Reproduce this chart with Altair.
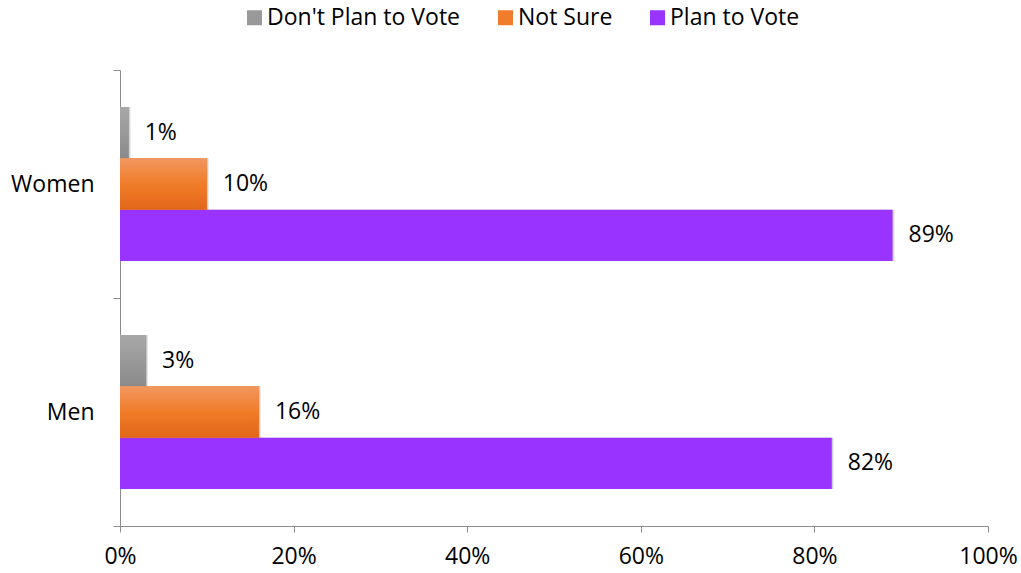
import altair as alt
import pandas as pd

groups = ["Women", "Men"]
series = ["Don't Plan to Vote", "Not Sure", "Plan to Vote"]
women_values = [1, 10, 89]
men_values = [3, 16, 82]
tick_values = [0, 20, 40, 60, 80, 100]
series_colors = ["#999999", "#ef7d2c", "#9933ff"]

rows = []
for g, vals in zip(groups, [women_values, men_values]):
    for s, v in zip(series, vals):
        rows.append({"group": g, "series": s, "value": v, "label": f"{v}%"})
df = pd.DataFrame(rows)

FONT = "Open Sans"
AXIS_GRAY = "#8c8c8c"

y_enc = alt.Y(
    "group:N",
    sort=groups,
    scale=alt.Scale(paddingInner=0, paddingOuter=0),
    axis=alt.Axis(
        title=None, tickBand="extent", tickSize=7, domainColor=AXIS_GRAY,
        tickColor=AXIS_GRAY, labelFont=FONT, labelFontSize=23,
        labelColor="black", labelPadding=19,
    ),
)
yoff_enc = alt.YOffset("series:N", sort=series, scale=alt.Scale(paddingInner=0, paddingOuter=0.722))
x_enc = alt.X(
    "value:Q",
    scale=alt.Scale(domain=[0, 100], nice=False),
    axis=alt.Axis(
        values=tick_values, labelExpr="datum.value + '%'", grid=False, title=None,
        tickSize=6, domainColor=AXIS_GRAY, tickColor=AXIS_GRAY, labelFont=FONT,
        labelFontSize=23, labelColor="black", labelPadding=13, labelFlush=False,
    ),
)

base = alt.Chart(df)

shadow1 = base.mark_bar(color="black", opacity=0.10, yOffset=4, xOffset=2).encode(
    x=x_enc, y=y_enc, yOffset=yoff_enc
)
shadow2 = base.mark_bar(color="black", opacity=0.12, yOffset=2, xOffset=1).encode(
    x=x_enc, y=y_enc, yOffset=yoff_enc
)

bars = base.mark_bar().encode(
    x=x_enc,
    y=y_enc,
    yOffset=yoff_enc,
    color=alt.Color(
        "series:N",
        sort=series,
        scale=alt.Scale(domain=series, range=series_colors),
        legend=alt.Legend(
            title=None, orient="none", direction="horizontal", legendX=123,
            legendY=-64, symbolType="square", symbolSize=225, symbolStrokeWidth=0,
            labelFont=FONT, labelFontSize=23, labelColor="black", labelOffset=1,
            columnPadding=33, labelLimit=0,
        ),
    ),
)

gray_grad = alt.LinearGradient(
    gradient="linear", x1=0, x2=0, y1=0, y2=1,
    stops=[alt.GradientStop(color="#a8a8a8", offset=0), alt.GradientStop(color="#8a8a8a", offset=1)],
)
orange_grad = alt.LinearGradient(
    gradient="linear", x1=0, x2=0, y1=0, y2=1,
    stops=[
        alt.GradientStop(color="#f29761", offset=0),
        alt.GradientStop(color="#f07c28", offset=0.5),
        alt.GradientStop(color="#e2661a", offset=1),
    ],
)

gray_bars = base.transform_filter(alt.datum.series == series[0]).mark_bar(color=gray_grad).encode(
    x=x_enc, y=y_enc, yOffset=yoff_enc
)
orange_bars = base.transform_filter(alt.datum.series == series[1]).mark_bar(color=orange_grad).encode(
    x=x_enc, y=y_enc, yOffset=yoff_enc
)

labels = base.mark_text(
    align="left", baseline="middle", dx=16, fontSize=23, font=FONT, color="black"
).encode(x=x_enc, y=y_enc, yOffset=yoff_enc, text="label:N")

chart = (
    alt.layer(shadow1, shadow2, bars, gray_bars, orange_bars, labels)
    .properties(
        width=868, height=456,
        autosize=alt.AutoSizeParams(type="none"),
        padding={"left": 120, "top": 70, "right": 33, "bottom": 47},
        background="white",
    )
    .configure_view(strokeWidth=0)
)

chart.save("out.html", embed_options={"renderer": "svg", "actions": False})
